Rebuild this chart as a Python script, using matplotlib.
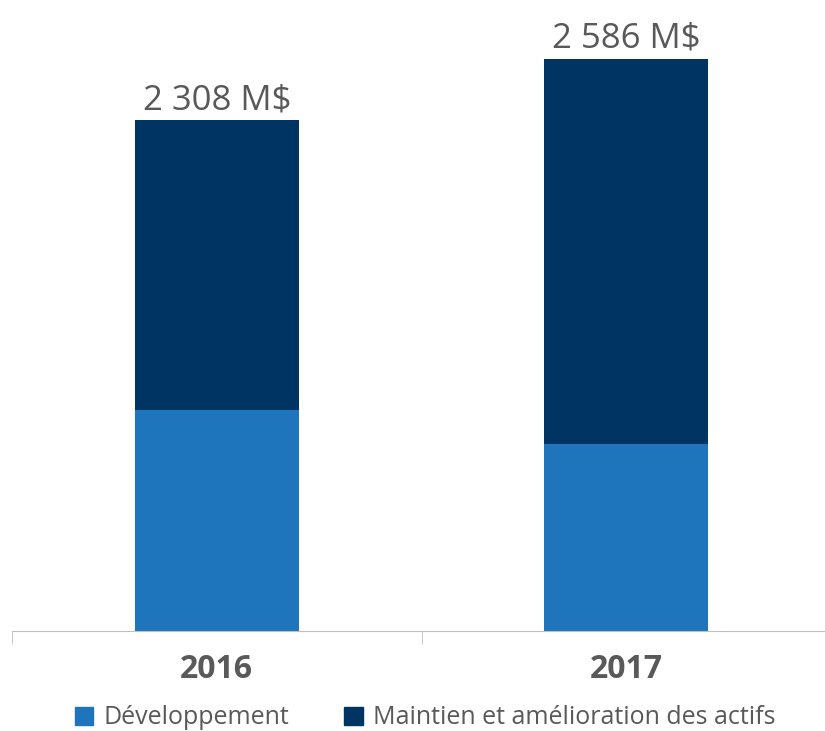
import matplotlib.pyplot as plt
from matplotlib.patches import Patch

years = ["2016", "2017"]
developpement = [1000, 846]
maintien = [1308, 1740]
totals = ["2 308 M$", "2 586 M$"]

c_dev = "#1F75BC"
c_main = "#003462"
grey = "#595959"

plt.rcParams['font.family'] = ['Open Sans', 'DejaVu Sans']

fig = plt.figure(figsize=(8.25, 7.31), dpi=100)
ax = fig.add_axes([12/825, 1-631/731, 1-12/825, (631-20)/731])

x = [0, 1]
ax.bar(x, developpement, width=0.4, color=c_dev, label="Développement")
ax.bar(x, maintien, width=0.4, bottom=developpement, color=c_main,
       label="Maintien et amélioration des actifs")

for xi, d, m, t in zip(x, developpement, maintien, totals):
    ax.text(xi, d + m + 15, t, ha='center', va='bottom', fontsize=25, color=grey)

ax.set_xlim(-0.5, 1.485)
ax.set_ylim(0, 2762)
ax.set_xticks(x)
ax.set_xticklabels(years, fontsize=23, fontweight='bold', color=grey)
ax.set_xticks([-0.5, 0.5], minor=True)
ax.tick_params(axis='x', which='major', length=0, pad=16)
ax.tick_params(axis='x', which='minor', length=9, color='#BFBFBF')
ax.set_yticks([])
for s in ['top', 'right', 'left']:
    ax.spines[s].set_visible(False)
ax.spines['bottom'].set_color('#BFBFBF')

handles = [Patch(color=c_dev), Patch(color=c_main)]
fig.legend(handles, ["Développement", "Maintien et amélioration des actifs"],
           loc='lower center', bbox_to_anchor=(0.515, -0.03), ncol=2, frameon=False,
           fontsize=18, labelcolor=grey, handlelength=0.75, handleheight=0.75,
           handletextpad=0.4, columnspacing=2.2)

fig.savefig("out.png", dpi=100)
